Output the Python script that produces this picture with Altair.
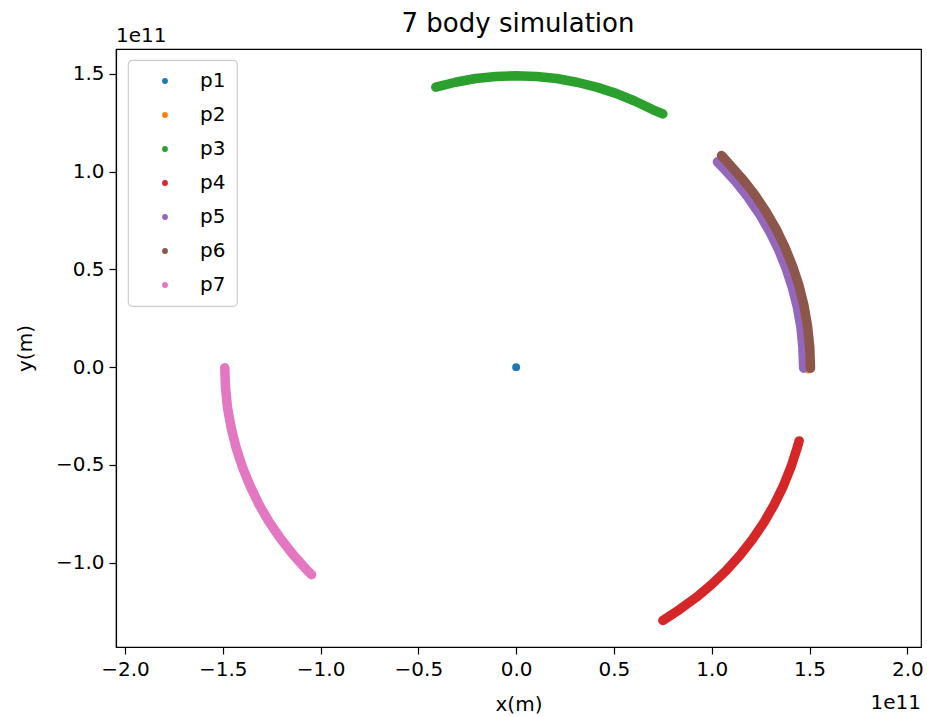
import altair as alt
import pandas as pd

FONT = "DejaVu Sans"

series_names = ["p1", "p2", "p3", "p4", "p5", "p6", "p7"]
series_colors = ["#1f77b4", "#ff7f0e", "#2ca02c", "#d62728", "#9467bd", "#8c564b", "#e377c2"]

# positions in units of 1e11 m
p1_x = [0.0]
p1_y = [0.0]

p2_x = [1.495]
p2_y = [-0.012]

p3_x = [-0.411, -0.310, -0.207, -0.104, 0.000, 0.104, 0.207, 0.310, 0.411, 0.510, 0.606, 0.700, 0.750]
p3_y = [1.432, 1.457, 1.476, 1.486, 1.490, 1.486, 1.476, 1.457, 1.432, 1.400, 1.361, 1.316, 1.295]

p4_x = [0.750, 0.836, 0.920, 1.000, 1.075, 1.145, 1.209, 1.268, 1.320, 1.366, 1.405, 1.437, 1.447]
p4_y = [-1.295, -1.239, -1.178, -1.111, -1.039, -0.961, -0.879, -0.792, -0.702, -0.608, -0.511, -0.412, -0.377]

p5_x = [1.470, 1.466, 1.456, 1.438, 1.413, 1.381, 1.343, 1.298, 1.247, 1.189, 1.126, 1.057, 1.029]
p5_y = [-0.005, 0.103, 0.205, 0.306, 0.405, 0.503, 0.598, 0.690, 0.779, 0.864, 0.945, 1.021, 1.050]

p6_x = [1.505, 1.501, 1.490, 1.472, 1.447, 1.414, 1.375, 1.329, 1.276, 1.218, 1.153, 1.083, 1.050]
p6_y = [-0.005, 0.105, 0.209, 0.313, 0.415, 0.515, 0.612, 0.707, 0.798, 0.885, 0.967, 1.046, 1.082]

p7_x = [-1.490, -1.486, -1.476, -1.457, -1.432, -1.400, -1.361, -1.316, -1.264, -1.205, -1.141, -1.072, -1.046]
p7_y = [-0.003, -0.104, -0.207, -0.310, -0.411, -0.510, -0.606, -0.700, -0.790, -0.876, -0.958, -1.035, -1.061]

x_ticks = [-2.0, -1.5, -1.0, -0.5, 0.0, 0.5, 1.0, 1.5, 2.0]
y_ticks = [-1.0, -0.5, 0.0, 0.5, 1.0, 1.5]


def rows_for(name, xs, ys):
    return [{"body": name, "x": x, "y": y, "i": i} for i, (x, y) in enumerate(zip(xs, ys))]


dot_rows = rows_for("p1", p1_x, p1_y) + rows_for("p2", p2_x, p2_y)
arc_rows = (rows_for("p3", p3_x, p3_y) + rows_for("p4", p4_x, p4_y) + rows_for("p5", p5_x, p5_y)
            + rows_for("p6", p6_x, p6_y) + rows_for("p7", p7_x, p7_y))
dots = pd.DataFrame(dot_rows)
arcs = pd.DataFrame(arc_rows)

xscale = alt.Scale(domain=[-2.046, 2.070], nice=False, zero=False)
yscale = alt.Scale(domain=[-1.431, 1.627], nice=False, zero=False)
cscale = alt.Scale(domain=series_names, range=series_colors)

x_enc = alt.X("x:Q", scale=xscale,
              axis=alt.Axis(title="x(m)", values=x_ticks, format=".1f", titlePadding=15))
y_enc = alt.Y("y:Q", scale=yscale,
              axis=alt.Axis(title="y(m)", values=y_ticks, format=".1f", titlePadding=20))

point_layer = alt.Chart(dots).mark_circle(size=62, opacity=1).encode(
    x=x_enc,
    y=y_enc,
    color=alt.Color("body:N", scale=cscale,
                    legend=alt.Legend(title=None, orient="none", legendX=12, legendY=11,
                                      values=series_names)),
)

line_layer = alt.Chart(arcs).mark_line(strokeWidth=9.5, strokeCap="round", strokeJoin="round").encode(
    x=x_enc,
    y=y_enc,
    color=alt.Color("body:N", scale=cscale, legend=None),
    order="i:Q",
)

title_layer = alt.Chart(pd.DataFrame({"t": ["7 body simulation"]})).mark_text(
    font=FONT, fontSize=26, color="black", align="center", baseline="alphabetic"
).encode(text="t:N", x=alt.value(402), y=alt.value(-17))

off_top = alt.Chart(pd.DataFrame({"t": ["1e11"]})).mark_text(
    font=FONT, fontSize=20, color="black", align="left", baseline="alphabetic"
).encode(text="t:N", x=alt.value(0), y=alt.value(-7))

off_bottom = alt.Chart(pd.DataFrame({"t": ["1e11"]})).mark_text(
    font=FONT, fontSize=20, color="black", align="right", baseline="alphabetic"
).encode(text="t:N", x=alt.value(805), y=alt.value(660))

chart = alt.layer(point_layer, line_layer, title_layer, off_top, off_bottom).properties(
    width=805, height=598, autosize="none", background="white",
    padding={"left": 116, "top": 49, "right": 6, "bottom": 70},
).configure_view(
    stroke="black", strokeWidth=1.2
).configure_axis(
    grid=False, domainColor="black", domainWidth=1.2, tickColor="black", tickWidth=1.2,
    tickSize=7, labelFont=FONT, labelFontSize=20, labelColor="black", labelPadding=5,
    titleFont=FONT, titleFontSize=20, titleFontWeight="normal", titleColor="black",
).configure_legend(
    fillColor="rgba(255,255,255,0.8)", strokeColor="#cccccc", strokeWidth=1.2, cornerRadius=4,
    padding=11, labelFont=FONT, labelFontSize=20, labelColor="black", rowPadding=14,
    symbolSize=34, symbolType="circle", symbolStrokeWidth=0, symbolOpacity=1,
    symbolOffset=16, labelOffset=25,
)

chart.save("out.html", embed_options={"renderer": "svg", "actions": False})
